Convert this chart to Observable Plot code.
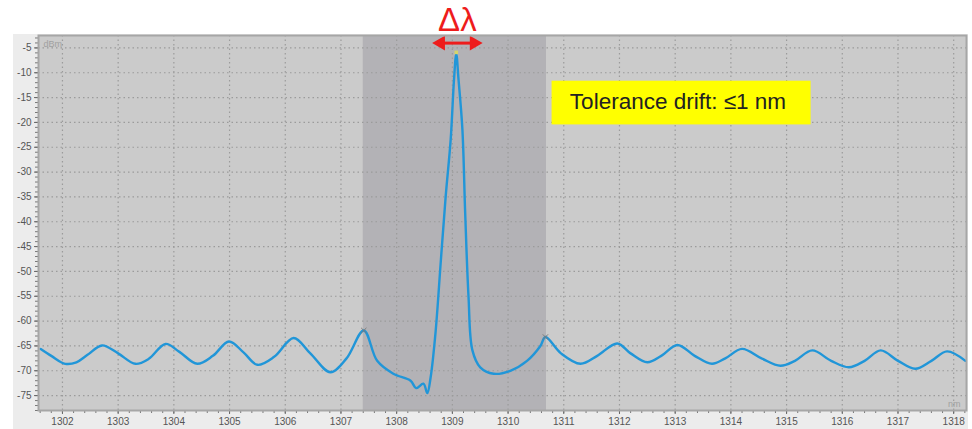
<!DOCTYPE html>
<html>
<head>
<meta charset="utf-8">
<script src="https://cdn.jsdelivr.net/npm/d3@7"></script>
<script src="https://cdn.jsdelivr.net/npm/@observablehq/plot@0.6"></script>
<style>
  body { margin: 0; background: #fff; }
  #wrap { position: relative; width: 972px; height: 429px; overflow: hidden; }
  #panel { position: absolute; left: 13px; top: 34px; width: 955px; height: 395px; background: #ececec; }
  #chart { position: absolute; left: 0; top: 0; }
</style>
</head>
<body>
<div id="wrap"><div id="panel"></div><div id="chart"></div></div>
<script>
// Spectrum (wavelength in nm, power in dBm)
const wavelength = [
  1301.61, 1301.80, 1302.05, 1302.25, 1302.45, 1302.71, 1303.00, 1303.31, 1303.55, 1303.85,
  1304.10, 1304.42, 1304.70, 1304.99, 1305.25, 1305.50, 1305.80, 1306.15, 1306.45, 1306.81,
  1307.10, 1307.41, 1307.65, 1307.94, 1308.25, 1308.35, 1308.48, 1308.55, 1308.61, 1308.70,
  1308.79, 1308.88, 1308.97, 1309.03, 1309.07, 1309.11, 1309.18, 1309.23, 1309.29, 1309.36,
  1309.50, 1309.74, 1310.04, 1310.34, 1310.58, 1310.67, 1310.95, 1311.30, 1311.60, 1311.96,
  1312.20, 1312.50, 1312.75, 1313.04, 1313.35, 1313.66, 1313.90, 1314.20, 1314.55, 1314.89,
  1315.15, 1315.46, 1315.80, 1316.12, 1316.40, 1316.69, 1317.00, 1317.31, 1317.60, 1317.88,
  1318.21
];
const power = [
  -65.6, -67.0, -68.6, -68.3, -66.8, -64.9, -66.5, -68.6, -67.6, -64.6,
  -66.2, -68.6, -67.0, -64.1, -66.3, -68.8, -67.2, -63.4, -66.5, -70.3,
  -67.5, -61.9, -68.0, -70.6, -72.0, -73.5, -72.6, -74.5, -71.3, -62.0,
  -48.3, -34.9, -23.4, -11.3, -6.2, -11.3, -21.4, -38.2, -55.1, -65.9,
  -69.3, -70.6, -70.0, -68.0, -65.0, -63.2, -66.5, -68.6, -67.0, -64.5,
  -66.5, -68.3, -67.0, -64.8, -67.0, -68.6, -67.5, -65.6, -67.5, -69.0,
  -68.0, -65.9, -68.0, -69.3, -68.0, -65.9, -68.0, -69.6, -68.0, -66.1,
  -68.0
];
const spectrum = wavelength.map((nm, i) => ({nm, dBm: power[i]}));

// Axis ticks
const xTickLabels = [1302, 1303, 1304, 1305, 1306, 1307, 1308, 1309, 1310, 1311, 1312, 1313, 1314, 1315, 1316, 1317, 1318];
const yTickLabels = [-5, -10, -15, -20, -25, -30, -35, -40, -45, -50, -55, -60, -65, -70, -75];
const xMinor = d3.range(1301.6, 1318.21, 0.2).map(v => +v.toFixed(1));
const yMinor = d3.range(-78, -2, 1);

// Shaded window
const shadeFrom = [1307.40];
const shadeTo = [1310.69];
const shade = shadeFrom.map((f, i) => ({from: f, to: shadeTo[i]}));

// Peak markers
const markerNm = [1307.41, 1310.67];
const markerDb = [-61.9, -63.2];
const markers = markerNm.map((nm, i) => ({nm, dBm: markerDb[i]}));
const topMarker = [{nm: 1309.07, dBm: -5.9}];

// Annotations
const deltaText = ["Δλ"];
const deltaAt = {nm: 1309.09, dBm: 0.6};
const arrowLeft = 1308.70, arrowRight = 1309.48, arrowDb = -4.03;
const noteText = ["Tolerance drift: ≤1 nm"];
const noteBox = [{x1: 1310.79, x2: 1315.44, y1: -11.7, y2: -20.5}];
const noteAt = {nm: 1313.05, dBm: -15.8};

const font = "'Liberation Sans', Arial, sans-serif";

const chart = Plot.plot({
  width: 972,
  height: 429,
  marginLeft: 38,
  marginRight: 6,
  marginTop: 35,
  marginBottom: 19,
  style: {background: "transparent", fontFamily: font, fontSize: "10px", color: "#555", overflow: "visible"},
  x: {domain: [1301.57, 1318.23]},
  y: {domain: [-78, -2.5]},
  marks: [
    Plot.frame({fill: "#cbcbcb"}),
    Plot.rect(shade, {x1: "from", x2: "to", fill: "#b3b2b6"}),
    Plot.ruleX(xTickLabels, {stroke: "#9b9b9b", strokeDasharray: "1.5,3", strokeWidth: 1.2}),
    Plot.ruleY(yTickLabels, {stroke: "#9b9b9b", strokeDasharray: "1.5,3", strokeWidth: 1.2}),
    Plot.axisX(xMinor, {tickSize: 3, tickFormat: () => "", stroke: "#777"}),
    Plot.axisX(xTickLabels, {tickSize: 4, tickPadding: 3, tickFormat: d => String(d), stroke: "#666", fill: "#555", fontSize: 10, label: null}),
    Plot.axisY(yMinor, {tickSize: 3, tickFormat: () => "", stroke: "#777"}),
    Plot.axisY(yTickLabels, {tickSize: 4, tickPadding: 3, tickFormat: d => String(d), stroke: "#666", fill: "#555", fontSize: 10, label: null}),
    Plot.line(spectrum, {x: "nm", y: "dBm", stroke: "#2196d8", strokeWidth: 2.4, curve: "catmull-rom"}),
    Plot.dot(markers, {x: "nm", y: "dBm", symbol: "times", r: 2.5, stroke: "#7a7a7a", strokeWidth: 1}),
    Plot.dot(topMarker, {x: "nm", y: "dBm", symbol: "square", r: 2, fill: "#d6d66a"}),
    Plot.text(["dBm"], {frameAnchor: "top-left", dx: 5, dy: 5, fill: "#a0a0a0", fontSize: 9}),
    Plot.text(["nm"], {frameAnchor: "bottom-right", dx: -6, dy: -4, fill: "#a0a0a0", fontSize: 9}),
    Plot.rect(noteBox, {x1: "x1", x2: "x2", y1: "y1", y2: "y2", fill: "#ffff00"}),
    Plot.text(noteText, {x: () => noteAt.nm, y: () => noteAt.dBm, text: d => d, fill: "#222", fontSize: 22.5, fontFamily: font}),
    Plot.ruleY([arrowDb], {x1: arrowLeft + 0.12, x2: arrowRight - 0.12, stroke: "#ee1c1c", strokeWidth: 3}),
    Plot.dot([arrowLeft], {x: d => d + 0.09, y: () => arrowDb, symbol: "triangle", rotate: -90, r: 5.5, fill: "#ee1c1c"}),
    Plot.dot([arrowRight], {x: d => d - 0.09, y: () => arrowDb, symbol: "triangle", rotate: 90, r: 5.5, fill: "#ee1c1c"}),
    Plot.text(deltaText, {x: () => deltaAt.nm, y: () => deltaAt.dBm, text: d => d, fill: "#ee1c1c", fontSize: 33, fontFamily: font}),
    Plot.frame({stroke: "#a6a6a6", strokeWidth: 2})
  ]
});
document.getElementById("chart").appendChild(chart);
</script>
</body>
</html>
